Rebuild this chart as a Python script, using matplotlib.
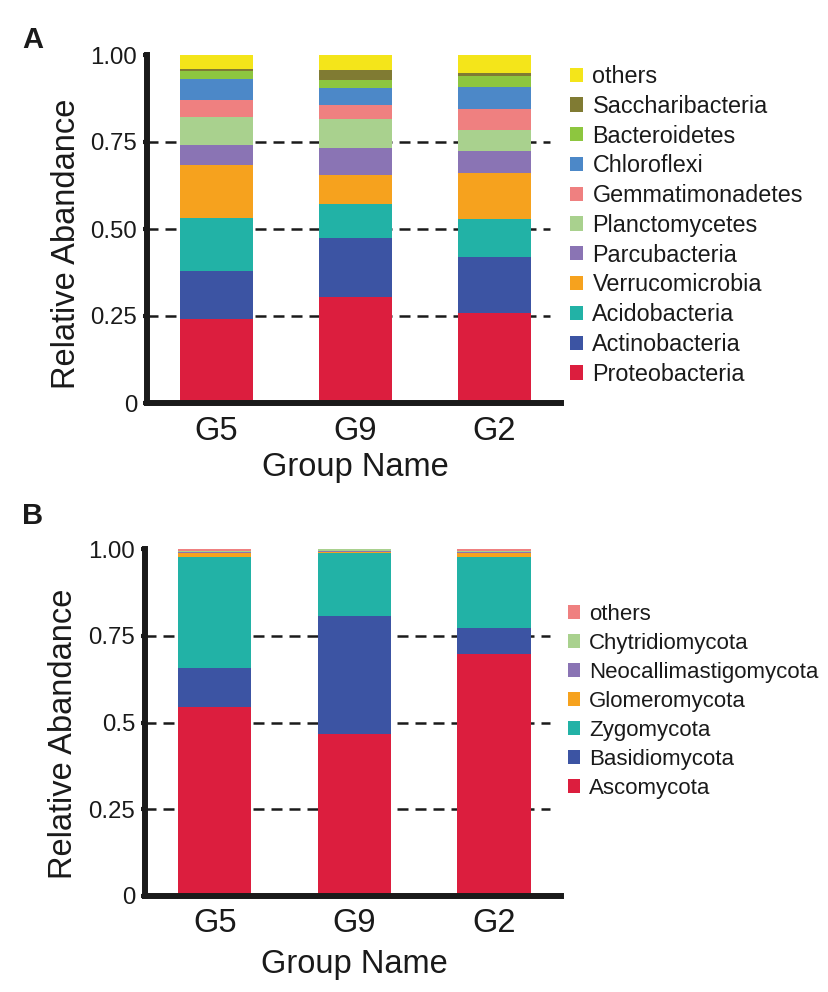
import matplotlib
matplotlib.use("Agg")
import matplotlib.pyplot as plt
import numpy as np

plt.rcParams['font.family'] = ['Liberation Sans', 'DejaVu Sans']

groups = ["G5", "G9", "G2"]

# Panel A: bacterial phyla (bottom to top)
bac_names = ["Proteobacteria", "Actinobacteria", "Acidobacteria", "Verrucomicrobia",
             "Parcubacteria", "Planctomycetes", "Gemmatimonadetes", "Chloroflexi",
             "Bacteroidetes", "Saccharibacteria", "others"]
bac_colors = ["#DC1E3E", "#3C54A3", "#22B2A6", "#F6A21E", "#8A74B4", "#A9D18E",
              "#EF8080", "#4C88C8", "#8DC63F", "#807B33", "#F4E51A"]
Proteobacteria   = [0.240, 0.305, 0.260]
Actinobacteria   = [0.140, 0.169, 0.159]
Acidobacteria    = [0.152, 0.099, 0.109]
Verrucomicrobia  = [0.151, 0.081, 0.132]
Parcubacteria    = [0.057, 0.078, 0.065]
Planctomycetes   = [0.083, 0.085, 0.059]
Gemmatimonadetes = [0.047, 0.039, 0.060]
Chloroflexi      = [0.060, 0.048, 0.063]
Bacteroidetes    = [0.024, 0.025, 0.032]
Saccharibacteria = [0.005, 0.027, 0.008]
bac_others       = [0.041, 0.044, 0.053]
bac_values = [Proteobacteria, Actinobacteria, Acidobacteria, Verrucomicrobia,
              Parcubacteria, Planctomycetes, Gemmatimonadetes, Chloroflexi,
              Bacteroidetes, Saccharibacteria, bac_others]

# Panel B: fungal phyla (bottom to top)
fun_names = ["Ascomycota", "Basidiomycota", "Zygomycota", "Glomeromycota",
             "Neocallimastigomycota", "Chytridiomycota", "others"]
fun_colors = ["#DC1E3E", "#3C54A3", "#22B2A6", "#F6A21E", "#8A74B4", "#A9D18E", "#EF8080"]
Ascomycota            = [0.546, 0.466, 0.696]
Basidiomycota         = [0.110, 0.341, 0.077]
Zygomycota            = [0.321, 0.182, 0.205]
Glomeromycota         = [0.012, 0.003, 0.010]
Neocallimastigomycota = [0.003, 0.001, 0.002]
Chytridiomycota       = [0.002, 0.007, 0.004]
fun_others            = [0.006, 0.000, 0.006]
fun_values = [Ascomycota, Basidiomycota, Zygomycota, Glomeromycota,
              Neocallimastigomycota, Chytridiomycota, fun_others]

yticks = [0, 0.25, 0.5, 0.75, 1.0]
ytick_labels_A = ["0", "0.25", "0.50", "0.75", "1.00"]
ytick_labels_B = ["0", "0.25", "0.5", "0.75", "1.00"]

W, H = 829, 992
fig = plt.figure(figsize=(W / 100, H / 100), dpi=100)

TXT = "#1a1a1a"


def panel(rect, names, colors, values, ylabels, letter, letter_y, leg_anchor,
          leg_fs, leg_sp, ylab_y, xlab_y):
    ax = fig.add_axes(rect)
    x = np.arange(len(groups))
    bottom = np.zeros(len(groups))
    handles = []
    for name, col, vals in zip(names, colors, values):
        v = np.array(vals)
        b = ax.bar(x, v, width=0.525, bottom=bottom, color=col, label=name,
                   linewidth=0, zorder=3)
        handles.append(b)
        bottom += v
    ax.set_xlim(-0.5, 2.48)
    ax.set_ylim(0, 1.0)
    for yv in [0.25, 0.5, 0.75]:
        ax.plot([-0.5, 2.4], [yv, yv], color=TXT, lw=1.8,
                linestyle=(0, (4.4, 2.8)), zorder=1)
    for s in ["top", "right"]:
        ax.spines[s].set_visible(False)
    for s in ["left", "bottom"]:
        ax.spines[s].set_linewidth(4.3)
        ax.spines[s].set_color(TXT)
        ax.spines[s].set_zorder(5)
    ax.set_yticks(yticks)
    ax.set_yticklabels(ylabels)
    ax.set_xticks(x)
    ax.set_xticklabels(groups)
    ax.tick_params(axis="y", length=3, width=3, color=TXT, labelsize=17.3,
                   labelcolor=TXT, pad=4)
    ax.tick_params(axis="x", length=0, labelsize=23.5, labelcolor=TXT, pad=9)
    ax.text(-0.195, ylab_y, "Relative Abandance", rotation=90, ha="center", va="center",
            fontsize=23.5, color=TXT, transform=ax.transAxes)
    ax.text(1.0, xlab_y, "Group Name", ha="center", va="center", fontsize=23.5, color=TXT,
            transform=ax.get_xaxis_transform())
    fig.text(22 / W, 1 - letter_y / H, letter, fontsize=21, fontweight="bold",
             ha="left", va="center", color=TXT)
    leg = fig.legend(handles[::-1], names[::-1], loc="upper left",
                     bbox_to_anchor=leg_anchor, frameon=False, fontsize=leg_fs,
                     handlelength=0.56, handleheight=0.56, handletextpad=0.4,
                     labelspacing=leg_sp, borderpad=0, borderaxespad=0)
    for t in leg.get_texts():
        t.set_color(TXT)
    return ax


axA = panel([147 / W, 1 - 403 / H, 414 / W, 348 / H], bac_names, bac_colors, bac_values,
            ytick_labels_A, "A", 40, (570 / W, 1 - 65 / H), 16.8, 0.29, 0.457, -0.184)
axB = panel([145 / W, 1 - 896 / H, 416 / W, 347 / H], fun_names, fun_colors, fun_values,
            ytick_labels_B, "B", 516, (568 / W, 1 - 604 / H), 16.0, 0.36, 0.467, -0.197)

fig.savefig("out.png", dpi=100)
